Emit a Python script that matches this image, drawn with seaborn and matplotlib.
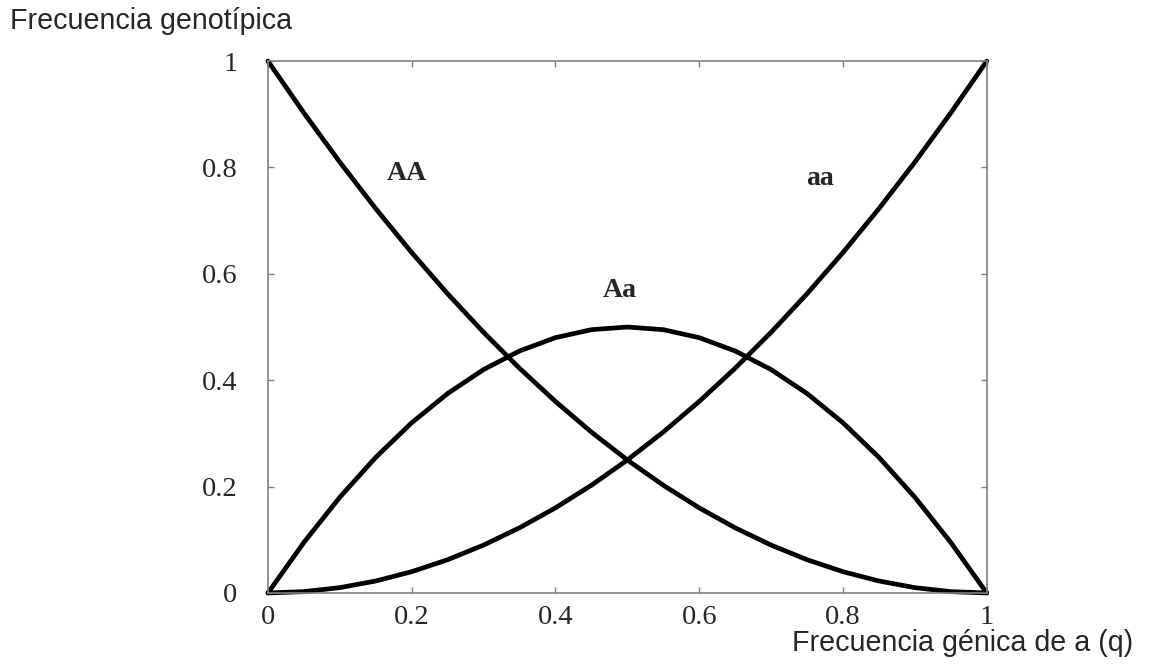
"""
Equilibrio de Hardy-Weinberg: frecuencias genotípicas frente a la frecuencia génica q
"""
import numpy as np
import pandas as pd
import matplotlib
matplotlib.use('Agg')
import matplotlib.pyplot as plt
import seaborn as sns

# valores (q de 0 a 1 en pasos de 0.05)
q = [0.0, 0.05, 0.10, 0.15, 0.20, 0.25, 0.30, 0.35, 0.40, 0.45, 0.50,
     0.55, 0.60, 0.65, 0.70, 0.75, 0.80, 0.85, 0.90, 0.95, 1.0]
freq_AA = [1.0, 0.9025, 0.81, 0.7225, 0.64, 0.5625, 0.49, 0.4225, 0.36, 0.3025, 0.25,
           0.2025, 0.16, 0.1225, 0.09, 0.0625, 0.04, 0.0225, 0.01, 0.0025, 0.0]
freq_Aa = [0.0, 0.095, 0.18, 0.255, 0.32, 0.375, 0.42, 0.455, 0.48, 0.495, 0.5,
           0.495, 0.48, 0.455, 0.42, 0.375, 0.32, 0.255, 0.18, 0.095, 0.0]
freq_aa = [0.0, 0.0025, 0.01, 0.0225, 0.04, 0.0625, 0.09, 0.1225, 0.16, 0.2025, 0.25,
           0.3025, 0.36, 0.4225, 0.49, 0.5625, 0.64, 0.7225, 0.81, 0.9025, 1.0]

genotipos = ['AA', 'Aa', 'aa']
etiquetas_pos = {'AA': (0.193, 0.789), 'Aa': (0.49, 0.568), 'aa': (0.768, 0.78)}

ticks = [0, 0.2, 0.4, 0.6, 0.8, 1]
tick_labels = ['0', '0.2', '0.4', '0.6', '0.8', '1']

df = pd.DataFrame({
    'q': q * 3,
    'freq': freq_AA + freq_Aa + freq_aa,
    'genotipo': [g for g in genotipos for _ in q],
})

sns.set_style('ticks')
plt.rcParams['font.family'] = ['Liberation Serif', 'DejaVu Serif']

fig = plt.figure(figsize=(11.5, 6.64), dpi=100)
ax = fig.add_axes([0.233, 0.107, 0.625, 0.801])

sns.lineplot(data=df, x='q', y='freq', hue='genotipo',
             palette=['black'] * 3, linewidth=3.4, legend=False,
             ax=ax, clip_on=False)

ax.set_xlim(0, 1)
ax.set_ylim(0, 1)
ax.set_xticks(ticks)
ax.set_xticklabels(tick_labels)
ax.set_yticks(ticks)
ax.set_yticklabels(tick_labels)
ax.tick_params(direction='in', top=True, right=True, length=4, width=1,
               color='#808080', labelsize=20.5)
ax.tick_params(axis='x', pad=9)
ax.tick_params(axis='y', pad=22)
for s in ax.spines.values():
    s.set_color('#808080')
    s.set_linewidth(1.2)
ax.set_xlabel('')
ax.set_ylabel('')

for g in genotipos:
    x, y = etiquetas_pos[g]
    ax.text(x, y, g, ha='center', va='center', fontsize=20,
            fontweight='bold', family='Liberation Serif')

fig.text(0.009, 0.968, 'Frecuencia genotípica', ha='left', va='center',
         fontsize=20.6, family='Liberation Sans')
fig.text(0.985, 0.032, 'Frecuencia génica de a (q)', ha='right', va='center',
         fontsize=20.6, family='Liberation Sans')

fig.savefig('out.png', dpi=100)
plt.close(fig)
